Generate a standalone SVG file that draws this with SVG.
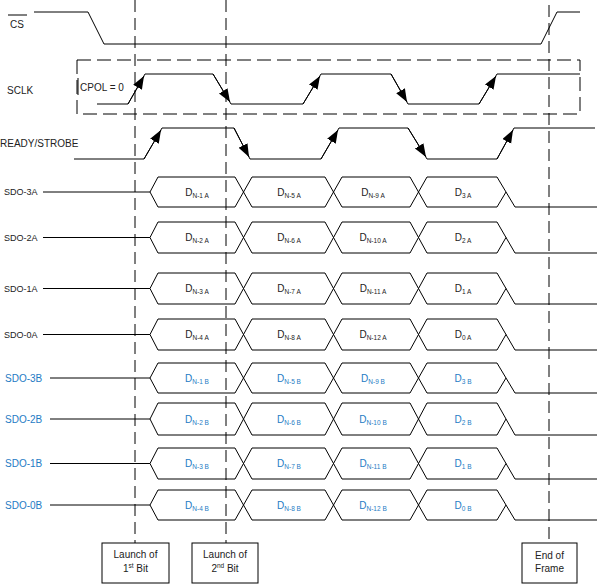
<svg xmlns="http://www.w3.org/2000/svg" width="597" height="584" viewBox="0 0 597 584">
<defs>
<marker id="ah" markerUnits="userSpaceOnUse" markerWidth="16" markerHeight="12" refX="13" refY="5" orient="auto">
<path d="M0,0 L13,5 L0,10 z" fill="#000"/>
</marker>
<style>
.w{fill:none;stroke:#000;stroke-width:1}
.d{fill:none;stroke:#000;stroke-width:1;stroke-dasharray:12,6}
.bx{fill:none;stroke:#000;stroke-width:1;stroke-dasharray:14,6}
.t{font-family:"Liberation Sans",Arial,sans-serif;font-size:10px;fill:#222}
.s{font-size:9px}
.b{fill:#1e7bc4}
.m{text-anchor:middle}
.box{fill:#fff;stroke:#000;stroke-width:1}
.a{fill:none;stroke:#000;stroke-width:1;marker-end:url(#ah)}
</style>
</defs>
<rect width="597" height="584" fill="#fff"/>

<g id="cs">
<text class="t" x="10" y="28">CS</text>
<line x1="8" y1="15" x2="27" y2="15" stroke="#000" stroke-width="1"/>
<polyline class="w" points="34,12 88,12 104,44 541,44 557,12 580,12"/>
</g>

<g id="sclk">
<text class="t" x="7" y="94">SCLK</text>
<rect class="bx" x="77" y="60" width="503" height="54"/>
<line x1="78" y1="78" x2="78" y2="95" stroke="#000" stroke-width="1"/>
<text class="t" x="80" y="91">CPOL = 0</text>
<polyline class="w" points="97,104 128,104 145,74 213,74 231,104 303,104 321,74 391,74 408,104 479,104 497,74 580,74"/>
<line class="a" x1="128" y1="104" x2="144" y2="76"/>
<line class="a" x1="213" y1="74" x2="230" y2="102"/>
<line class="a" x1="303" y1="104" x2="320" y2="76"/>
<line class="a" x1="391" y1="74" x2="407" y2="102"/>
<line class="a" x1="479" y1="104" x2="496" y2="76"/>
</g>

<g id="ready">
<text class="t" x="0" y="147">READY/STROBE</text>
<polyline class="w" points="74,159 144,159 162,128 234,128 250,159 321,159 339,128 408,128 427,159 497,159 514,128 595,128"/>
<line class="a" x1="144" y1="159" x2="161" y2="130"/>
<line class="a" x1="234" y1="128" x2="249" y2="157"/>
<line class="a" x1="321" y1="159" x2="338" y2="130"/>
<line class="a" x1="408" y1="128" x2="426" y2="157"/>
<line class="a" x1="497" y1="159" x2="513" y2="130"/>
</g>

<g id="sdo3a">
<text class="t s" x="4" y="195">SDO-3A</text>
<path class="w" d="M43,192 H150 L158,177 H235 L252,207 H325 L342,177 H410 L427,207 H497 L506,192"/>
<path class="w" d="M150,192 L158,207 H235 L252,177 H325 L342,207 H410 L427,177 H497 L515,207 H597"/>
<text class="t m" x="197" y="195.5">D<tspan font-size="6.5" dy="2">N-1 A</tspan></text>
<text class="t m" x="289" y="195.5">D<tspan font-size="6.5" dy="2">N-5 A</tspan></text>
<text class="t m" x="373" y="195.5">D<tspan font-size="6.5" dy="2">N-9 A</tspan></text>
<text class="t m" x="463" y="195.5">D<tspan font-size="6.5" dy="2">3 A</tspan></text>
</g>

<g id="sdo2a">
<text class="t s" x="4" y="240.5">SDO-2A</text>
<path class="w" d="M43,237.5 H150 L158,222 H235 L252,253 H325 L342,222 H410 L427,253 H497 L506,237.5"/>
<path class="w" d="M150,237.5 L158,253 H235 L252,222 H325 L342,253 H410 L427,222 H497 L515,253 H597"/>
<text class="t m" x="197" y="241">D<tspan font-size="6.5" dy="2">N-2 A</tspan></text>
<text class="t m" x="289" y="241">D<tspan font-size="6.5" dy="2">N-6 A</tspan></text>
<text class="t m" x="373" y="241">D<tspan font-size="6.5" dy="2">N-10 A</tspan></text>
<text class="t m" x="463" y="241">D<tspan font-size="6.5" dy="2">2 A</tspan></text>
</g>

<g id="sdo1a">
<text class="t s" x="4" y="291.5">SDO-1A</text>
<path class="w" d="M43,288.5 H150 L158,273 H235 L252,304 H325 L342,273 H410 L427,304 H497 L506,288.5"/>
<path class="w" d="M150,288.5 L158,304 H235 L252,273 H325 L342,304 H410 L427,273 H497 L515,304 H597"/>
<text class="t m" x="197" y="292">D<tspan font-size="6.5" dy="2">N-3 A</tspan></text>
<text class="t m" x="289" y="292">D<tspan font-size="6.5" dy="2">N-7 A</tspan></text>
<text class="t m" x="373" y="292">D<tspan font-size="6.5" dy="2">N-11 A</tspan></text>
<text class="t m" x="463" y="292">D<tspan font-size="6.5" dy="2">1 A</tspan></text>
</g>

<g id="sdo0a">
<text class="t s" x="4" y="337.5">SDO-0A</text>
<path class="w" d="M43,334.5 H150 L158,319 H235 L252,350 H325 L342,319 H410 L427,350 H497 L506,334.5"/>
<path class="w" d="M150,334.5 L158,350 H235 L252,319 H325 L342,350 H410 L427,319 H497 L515,350 H597"/>
<text class="t m" x="197" y="338">D<tspan font-size="6.5" dy="2">N-4 A</tspan></text>
<text class="t m" x="289" y="338">D<tspan font-size="6.5" dy="2">N-8 A</tspan></text>
<text class="t m" x="373" y="338">D<tspan font-size="6.5" dy="2">N-12 A</tspan></text>
<text class="t m" x="463" y="338">D<tspan font-size="6.5" dy="2">0 A</tspan></text>
</g>

<g id="sdo3b">
<text class="t b" x="5" y="381.5">SDO-3B</text>
<path class="w" d="M50,378 H150 L158,363 H235 L252,393 H325 L342,363 H410 L427,393 H497 L506,378"/>
<path class="w" d="M150,378 L158,393 H235 L252,363 H325 L342,393 H410 L427,363 H497 L515,393 H597"/>
<text class="t b m" x="197" y="381.5">D<tspan font-size="6.5" dy="2">N-1 B</tspan></text>
<text class="t b m" x="289" y="381.5">D<tspan font-size="6.5" dy="2">N-5 B</tspan></text>
<text class="t b m" x="373" y="381.5">D<tspan font-size="6.5" dy="2">N-9 B</tspan></text>
<text class="t b m" x="463" y="381.5">D<tspan font-size="6.5" dy="2">3 B</tspan></text>
</g>

<g id="sdo2b">
<text class="t b" x="5" y="422.5">SDO-2B</text>
<path class="w" d="M50,419 H150 L158,403 H235 L252,435 H325 L342,403 H410 L427,435 H497 L506,419"/>
<path class="w" d="M150,419 L158,435 H235 L252,403 H325 L342,435 H410 L427,403 H497 L515,435 H597"/>
<text class="t b m" x="197" y="422.5">D<tspan font-size="6.5" dy="2">N-2 B</tspan></text>
<text class="t b m" x="289" y="422.5">D<tspan font-size="6.5" dy="2">N-6 B</tspan></text>
<text class="t b m" x="373" y="422.5">D<tspan font-size="6.5" dy="2">N-10 B</tspan></text>
<text class="t b m" x="463" y="422.5">D<tspan font-size="6.5" dy="2">2 B</tspan></text>
</g>

<g id="sdo1b">
<text class="t b" x="5" y="467">SDO-1B</text>
<path class="w" d="M50,463.5 H150 L158,448 H235 L252,479 H325 L342,448 H410 L427,479 H497 L506,463.5"/>
<path class="w" d="M150,463.5 L158,479 H235 L252,448 H325 L342,479 H410 L427,448 H497 L515,479 H597"/>
<text class="t b m" x="197" y="467">D<tspan font-size="6.5" dy="2">N-3 B</tspan></text>
<text class="t b m" x="289" y="467">D<tspan font-size="6.5" dy="2">N-7 B</tspan></text>
<text class="t b m" x="373" y="467">D<tspan font-size="6.5" dy="2">N-11 B</tspan></text>
<text class="t b m" x="463" y="467">D<tspan font-size="6.5" dy="2">1 B</tspan></text>
</g>

<g id="sdo0b">
<text class="t b" x="5" y="508.5">SDO-0B</text>
<path class="w" d="M50,505 H150 L158,490 H235 L252,520 H325 L342,490 H410 L427,520 H497 L506,505"/>
<path class="w" d="M150,505 L158,520 H235 L252,490 H325 L342,520 H410 L427,490 H497 L515,520 H597"/>
<text class="t b m" x="197" y="508.5">D<tspan font-size="6.5" dy="2">N-4 B</tspan></text>
<text class="t b m" x="289" y="508.5">D<tspan font-size="6.5" dy="2">N-8 B</tspan></text>
<text class="t b m" x="373" y="508.5">D<tspan font-size="6.5" dy="2">N-12 B</tspan></text>
<text class="t b m" x="463" y="508.5">D<tspan font-size="6.5" dy="2">0 B</tspan></text>
</g>

<g id="connectors">
<line class="d" x1="135" y1="0" x2="135" y2="543"/>
<line class="d" x1="226" y1="0" x2="226" y2="543"/>
<line class="d" x1="549" y1="5" x2="549" y2="543"/>
</g>

<g id="launch1">
<rect class="box" x="102" y="543" width="67" height="40"/>
<text class="t m" x="135.5" y="558">Launch of</text>
<text class="t m" x="135.5" y="572">1<tspan font-size="6.5" dy="-4">st</tspan><tspan dy="4"> Bit</tspan></text>
</g>
<g id="launch2">
<rect class="box" x="192" y="543" width="66" height="40"/>
<text class="t m" x="225" y="558">Launch of</text>
<text class="t m" x="225" y="572">2<tspan font-size="6.5" dy="-4">nd</tspan><tspan dy="4"> Bit</tspan></text>
</g>
<g id="endframe">
<rect class="box" x="522" y="543" width="55" height="40"/>
<text class="t m" x="549.5" y="559">End of</text>
<text class="t m" x="549.5" y="572">Frame</text>
</g>
</svg>
